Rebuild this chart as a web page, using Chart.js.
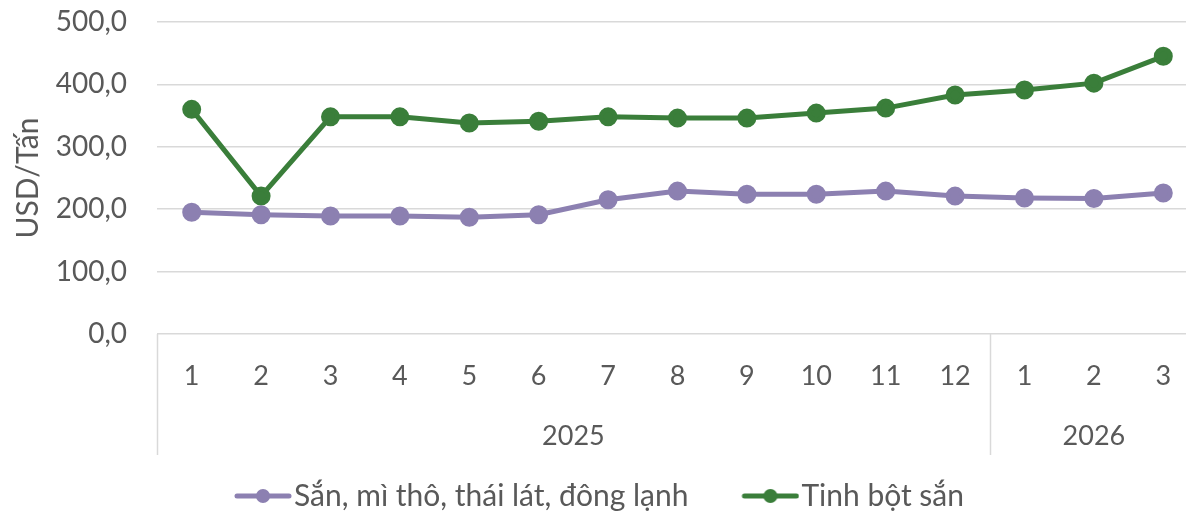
<!DOCTYPE html>
<html>
<head>
<meta charset="utf-8">
<script src="https://cdn.jsdelivr.net/npm/chart.js@4/dist/chart.umd.min.js"></script>
<style>
  html, body { margin: 0; padding: 0; background: #fff; overflow: hidden; }
  #wrap { width: 1200px; height: 511px; position: relative; }
</style>
</head>
<body>
<div id="wrap"><canvas id="grafico"></canvas></div>
<script>
// Dados do gráfico
const thang = ["1", "2", "3", "4", "5", "6", "7", "8", "9", "10", "11", "12", "1", "2", "3"];
const nam = ["2025", "2026"];
const soThangMoiNam = [12, 3];

const sanLat = [195, 191, 189, 189, 187, 191, 215, 229, 224, 224, 229, 221, 218, 217, 226];
const tinhBot = [360, 221, 348, 348, 338, 341, 348, 346, 346, 354, 362, 383, 391, 402, 445];

const tenSanLat = "Sắn, mì thô, thái lát, đông lạnh";
const tenTinhBot = "Tinh bột sắn";

const corSanLat = "#8C80B1";
const corTinhBot = "#3A7E3A";
const corTexto = "#595959";
const corGrade = "#D9D9D9";
const fonte = "Lato";

// Ícone da legenda: linha com bolinha (lado esquerdo transparente)
function iconeLegenda(cor) {
  const c = document.createElement("canvas");
  c.width = 71;
  c.height = 18;
  const ctx = c.getContext("2d");
  ctx.strokeStyle = cor;
  ctx.lineWidth = 5;
  ctx.lineCap = "round";
  ctx.beginPath();
  ctx.moveTo(16, 9);
  ctx.lineTo(68, 9);
  ctx.stroke();
  ctx.fillStyle = cor;
  ctx.beginPath();
  ctx.arc(42, 9, 7, 0, Math.PI * 2);
  ctx.fill();
  return c;
}

// Plugin para o eixo de categorias com anos e separadores
const eixoAnos = {
  id: "eixoAnos",
  afterDraw(chart) {
    const ctx = chart.ctx;
    const x = chart.scales.x;
    const area = chart.chartArea;
    const base = area.bottom + 121;
    ctx.save();
    ctx.strokeStyle = corGrade;
    ctx.lineWidth = 1.5;
    ctx.fillStyle = corTexto;
    ctx.font = "27px " + fonte;
    ctx.textAlign = "center";
    ctx.textBaseline = "middle";

    let inicio = 0;
    let esquerda = area.left;
    soThangMoiNam.forEach((n, i) => {
      const fim = inicio + n - 1;
      const direita = fim < thang.length - 1
        ? (x.getPixelForValue(fim) + x.getPixelForValue(fim + 1)) / 2
        : area.right;
      ctx.beginPath();
      ctx.moveTo(Math.round(esquerda) + 0.5, area.bottom);
      ctx.lineTo(Math.round(esquerda) + 0.5, base);
      ctx.stroke();
      ctx.fillText(nam[i], (esquerda + direita) / 2, area.bottom + 102);
      esquerda = direita;
      inicio += n;
    });
    ctx.beginPath();
    ctx.moveTo(Math.round(area.right) - 0.5, area.bottom);
    ctx.lineTo(Math.round(area.right) - 0.5, base);
    ctx.stroke();
    ctx.restore();
  }
};

new Chart(document.getElementById("grafico"), {
  type: "line",
  data: {
    labels: thang,
    datasets: [
      {
        label: tenSanLat,
        data: sanLat,
        borderColor: corSanLat,
        backgroundColor: corSanLat,
        pointBackgroundColor: corSanLat,
        pointBorderColor: corSanLat,
        borderWidth: 5,
        pointRadius: 7,
        tension: 0
      },
      {
        label: tenTinhBot,
        data: tinhBot,
        borderColor: corTinhBot,
        backgroundColor: corTinhBot,
        pointBackgroundColor: corTinhBot,
        pointBorderColor: corTinhBot,
        borderWidth: 5,
        pointRadius: 7,
        tension: 0
      }
    ]
  },
  options: {
    responsive: true,
    maintainAspectRatio: false,
    devicePixelRatio: 1,
    animation: false,
    layout: { autoPadding: false, padding: { top: 22, right: 2, left: 0, bottom: 0 } },
    scales: {
      x: {
        offset: true,
        grid: { display: false, drawTicks: false },
        border: { display: false },
        ticks: {
          color: corTexto,
          font: { family: fonte, size: 27 },
          padding: 26,
          maxRotation: 0,
          autoSkip: false
        },
        afterFit(scale) {
          scale.height = 94;
          scale.paddingLeft = 0;
          scale.paddingRight = 0;
        }
      },
      y: {
        min: 0,
        max: 500,
        ticks: {
          stepSize: 100,
          color: corTexto,
          font: { family: fonte, size: 28 },
          padding: 30,
          callback: (v) => v.toFixed(1).replace(".", ",")
        },
        grid: { color: corGrade, lineWidth: 1.5, drawTicks: false },
        border: { display: false },
        title: {
          display: true,
          text: "USD/Tấn",
          color: corTexto,
          font: { family: fonte, size: 30 },
          padding: { top: 10, bottom: 0 }
        },
        afterFit(scale) {
          scale.width = 157;
          // o padding dos ticks não deve empurrar a área do gráfico
          scale.paddingTop = 0;
          scale.paddingBottom = 0;
        }
      }
    },
    plugins: {
      legend: {
        position: "bottom",
        maxHeight: 83,
        labels: {
          color: corTexto,
          font: { family: fonte, size: 30 },
          usePointStyle: true,
          pointStyleWidth: 45,
          padding: 53,
          generateLabels(chart) {
            const itens = Chart.defaults.plugins.legend.labels.generateLabels(chart);
            itens.forEach((it, i) => {
              it.pointStyle = iconeLegenda(chart.data.datasets[i].borderColor);
            });
            return itens;
          }
        }
      },
      tooltip: { enabled: false }
    }
  },
  plugins: [eixoAnos]
});
</script>
</body>
</html>
